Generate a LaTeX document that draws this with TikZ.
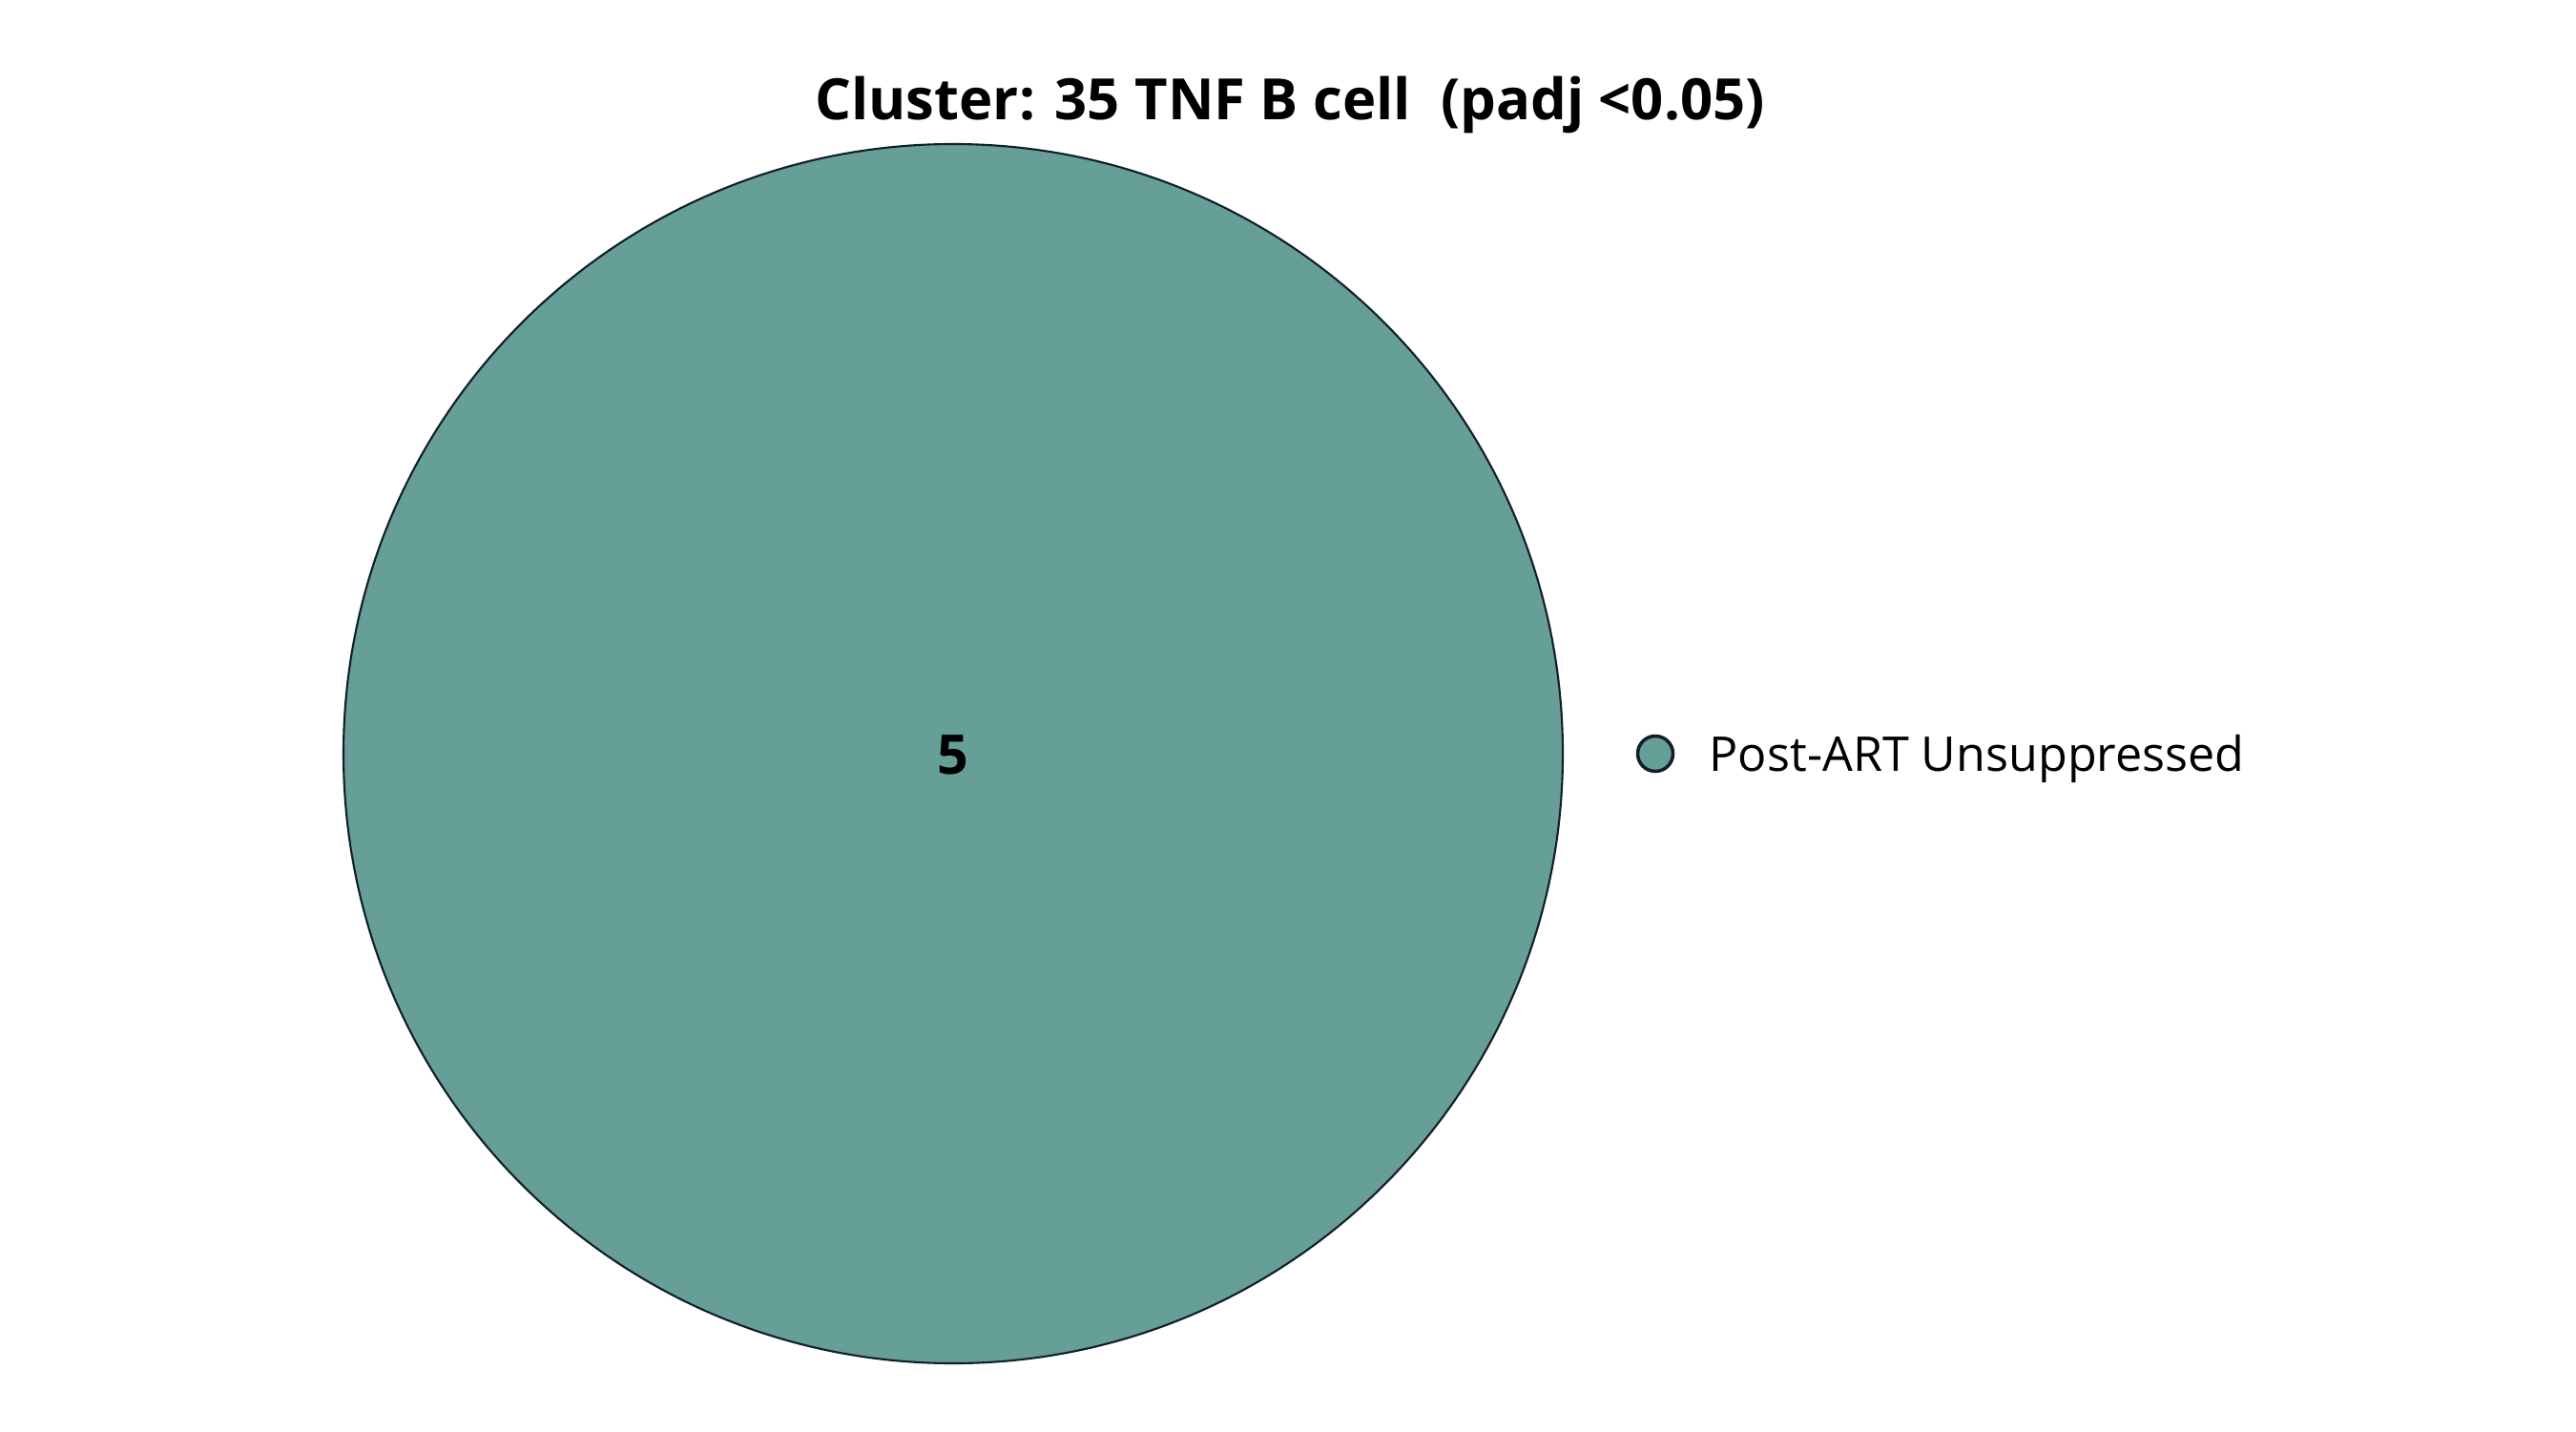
\documentclass[tikz,border=0pt]{standalone}
\usepackage{fontspec}
\setmainfont{Open Sans}
\definecolor{venn}{RGB}{102,158,152}
\definecolor{edge}{RGB}{18,30,44}
\begin{document}
\begin{tikzpicture}
\useasboundingbox[fill=white] (0,0) rectangle (27,15);
\tikzset{
  txt/.style={inner sep=0pt, anchor=base, text=black},
}
\node[circle, draw=edge, line width=0.6pt, fill=venn, minimum size=12.78cm, inner sep=0pt] (set) at (9.99,7.10) {};
\node[txt, font=\fontsize{16.3}{18}\selectfont\bfseries] (count) at (9.99,6.89) {5};
\node[txt, font=\fontsize{17}{20}\selectfont\bfseries] (title) at (13.52,13.74) {Cluster: 35 TNF B cell\ \ (padj <0.05)};
\node[circle, draw=edge, line width=1pt, fill=venn, minimum size=0.37cm, inner sep=0pt] (mark) at (17.35,7.10) {};
\node[txt, anchor=base west, font=\fontsize{14.3}{18}\selectfont] (label) at (17.91,6.92) {Post-ART Unsuppressed};
\end{tikzpicture}
\end{document}
